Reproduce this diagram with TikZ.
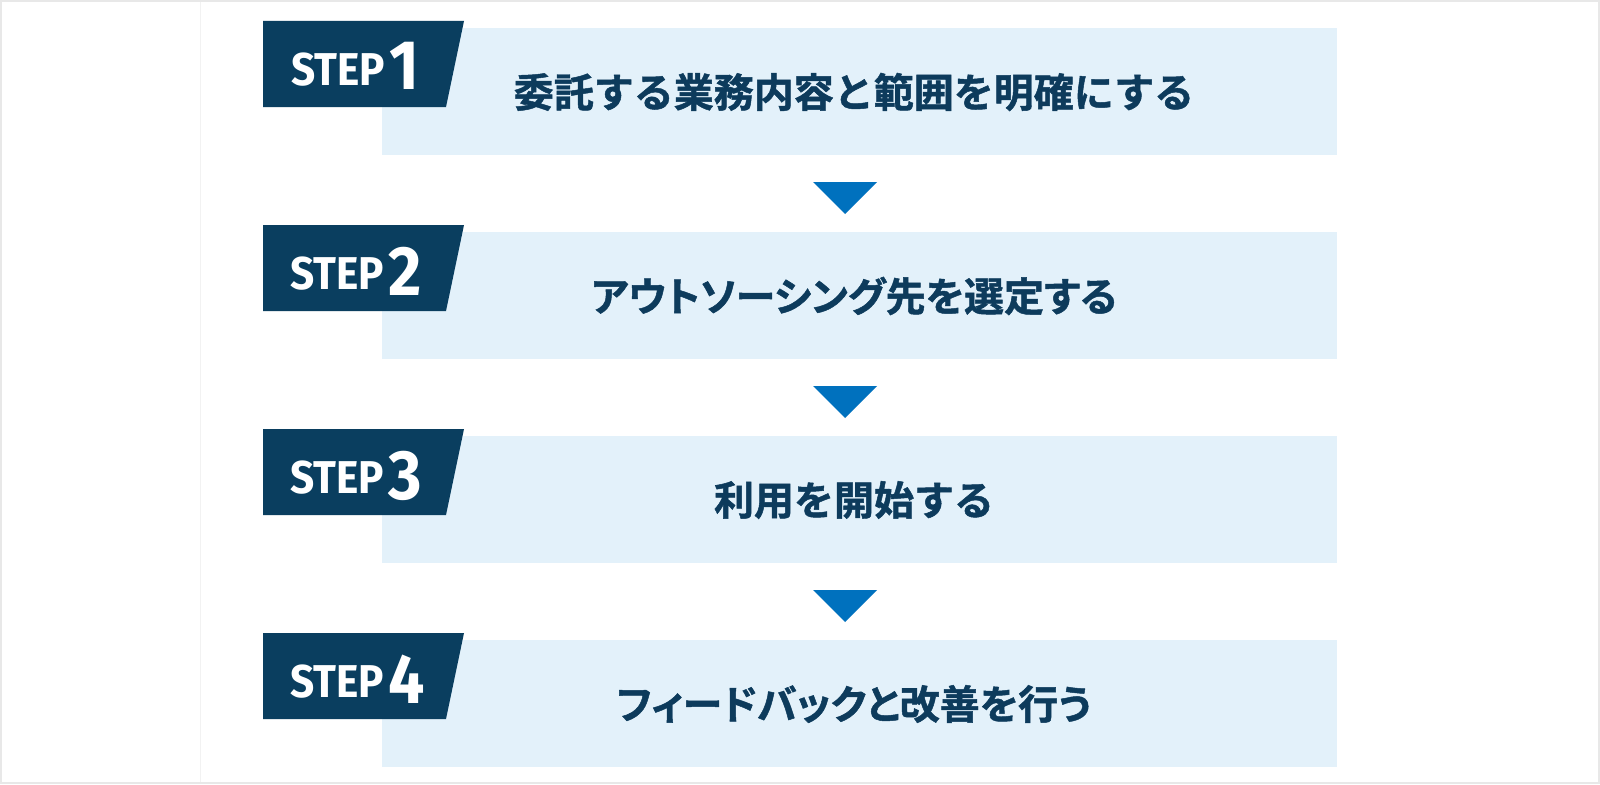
\documentclass[tikz,border=0pt]{standalone}
\usepackage{fontspec}
\newfontfamily\jpfont[FakeBold=1.2]{Noto Sans CJK JP Bold}
\newfontfamily\jppfont[FakeBold=1.2,RawFeature=+palt]{Noto Sans CJK JP Bold}
\newfontfamily\stepfont[FakeStretch=0.92]{Fira Sans Bold}
\definecolor{navy}{HTML}{0A3E5F}
\definecolor{txtnavy}{HTML}{0D3B5C}
\definecolor{lightbox}{HTML}{E3F1FA}
\definecolor{arrowblue}{HTML}{0071BE}
\definecolor{framegray}{HTML}{E8E8E8}
\definecolor{faintline}{HTML}{F2F2F2}
\begin{document}
\begin{tikzpicture}[x=1pt,y=-1pt,
  boxtext/.style={font=\jpfont\fontsize{40}{42}\selectfont, text=txtnavy, inner sep=0pt},
  boxtextp/.style={font=\jppfont\fontsize{40}{42}\selectfont, text=txtnavy, inner sep=0pt},
  steptext/.style={font=\stepfont\fontsize{46}{48}\selectfont, text=white, inner sep=0pt, anchor=base west},
  stepnum/.style={font=\stepfont\fontsize{70}{72}\selectfont, text=white, inner sep=0pt, anchor=base west}]
\fill[framegray] (0,0) rectangle (1600,784);
\fill[white] (2,2) rectangle (1598,782);
\useasboundingbox (0,0) rectangle (1600,784);
\draw[faintline, line width=1pt] (200.5,2) -- (200.5,782);
\foreach \k in {0,1,2,3}{
  \pgfmathsetmacro{\dy}{204*\k}
  \fill[lightbox] (382,28+\dy) rectangle (1337,155+\dy);
  \fill[navy] (263,21+\dy) -- (464,21+\dy) -- (446,107+\dy) -- (263,107+\dy) -- cycle;
}
\node[boxtext] (t0) at (854,92) {委託する業務内容と範囲を明確にする};
\node[boxtextp] (t1) at (854,296) {アウトソーシング先を選定する};
\node[boxtext] (t2) at (854,500) {利用を開始する};
\node[boxtextp] (t3) at (854,704) {フィードバックと改善を行う};
\node[steptext] (s0) at (291,85) {STEP};
\node[stepnum] (n0) at (389,89) {1};
\node[steptext] (s1) at (290,289) {STEP};
\node[stepnum] (n1) at (388,295) {2};
\node[steptext] (s2) at (290,493) {STEP};
\node[stepnum] (n2) at (388,499) {3};
\node[steptext] (s3) at (290,697) {STEP};
\node[stepnum] (n3) at (388,703) {4};
\foreach \k in {0,1,2}{
  \pgfmathsetmacro{\dy}{204*\k}
  \fill[arrowblue] (813,182+\dy) -- (877,182+\dy) -- (845,214+\dy) -- cycle;
}
\end{tikzpicture}
\end{document}
